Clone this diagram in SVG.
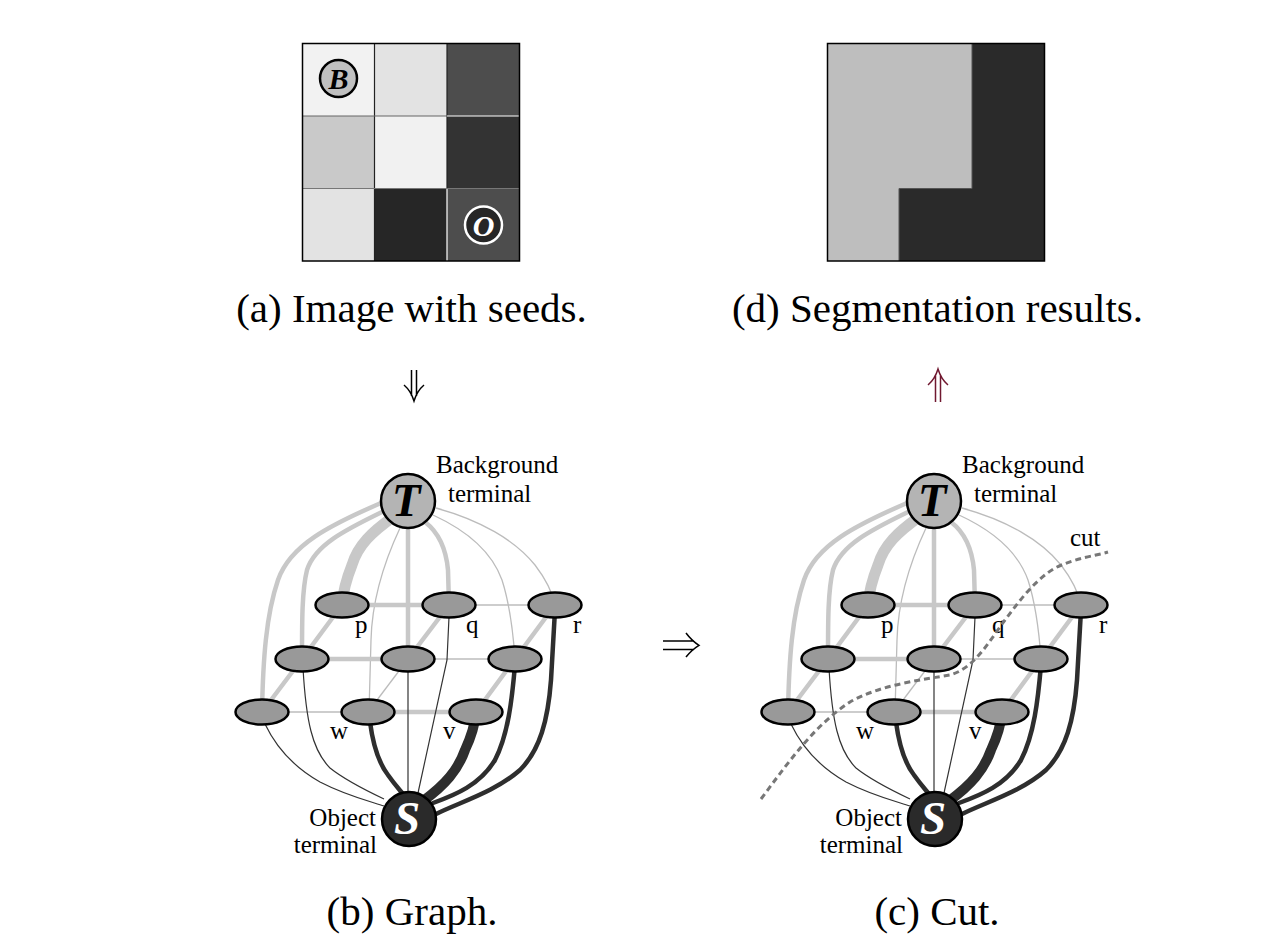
<svg xmlns="http://www.w3.org/2000/svg" width="1265" height="952" viewBox="0 0 1265 952">
<style>
.cap{font-family:"Liberation Serif","Times New Roman",serif;font-size:41px;fill:#000;text-anchor:middle}
.lbl{font-family:"Liberation Serif","Times New Roman",serif;font-size:25px;fill:#000}
.term{font-family:"Liberation Serif","Times New Roman",serif;font-size:47px;font-weight:bold;font-style:italic;text-anchor:middle}
.seed{font-family:"Liberation Serif","Times New Roman",serif;font-size:30px;font-weight:bold;font-style:italic;text-anchor:middle}
.lg{fill:none;stroke:#c8c8c8;stroke-width:4.5;stroke-linecap:round}
.lt{fill:none;stroke:#bcbcbc;stroke-width:1.3}
.dk{fill:none;stroke:#2e2e2e;stroke-width:4.5;stroke-linecap:round}
.dt{fill:none;stroke:#333;stroke-width:1.2}
.nd{fill:#999;stroke:#000;stroke-width:2.5}
.arr{fill:none;stroke:#000;stroke-width:1.5}
</style>
<rect width="1265" height="952" fill="#fff"/>

<!-- (a) image with seeds -->
<g id="imageA">
<rect x="302.5" y="43.5" width="72" height="72.5" fill="#f2f2f2"/>
<rect x="374.5" y="43.5" width="72.5" height="72.5" fill="#e3e3e3"/>
<rect x="447" y="43.5" width="72.5" height="72.5" fill="#4d4d4d"/>
<rect x="302.5" y="116" width="72" height="72.5" fill="#c9c9c9"/>
<rect x="374.5" y="116" width="72.5" height="72.5" fill="#f1f1f1"/>
<rect x="447" y="116" width="72.5" height="72.5" fill="#333"/>
<rect x="302.5" y="188.5" width="72" height="72.5" fill="#e3e3e3"/>
<rect x="374.5" y="188.5" width="72.5" height="72.5" fill="#262626"/>
<rect x="447" y="188.5" width="72.5" height="72.5" fill="#4d4d4d"/>
<line x1="374.5" y1="43.5" x2="374.5" y2="261" stroke="#222" stroke-width="1.2"/>
<line x1="447" y1="43.5" x2="447" y2="188.5" stroke="#222" stroke-width="1.2"/>
<line x1="447" y1="188.5" x2="447" y2="261" stroke="#fff" stroke-width="1.2"/>
<line x1="302.5" y1="116" x2="447" y2="116" stroke="#666" stroke-width="1.2"/>
<line x1="447" y1="116" x2="519.5" y2="116" stroke="#fff" stroke-width="1.2"/>
<line x1="302.5" y1="188.5" x2="519.5" y2="188.5" stroke="#777" stroke-width="1.2"/>
<rect x="302.5" y="43.5" width="217" height="217.5" fill="none" stroke="#000" stroke-width="1.5"/>
<g id="seedB">
<circle cx="338.5" cy="78.5" r="18.5" fill="#c0c0c0" stroke="#000" stroke-width="2.5"/>
<text class="seed" x="338.5" y="89" fill="#000">B</text>
</g>
<g id="seedO">
<circle cx="483.5" cy="225" r="18.5" fill="#262626" stroke="#fff" stroke-width="2.5"/>
<text class="seed" x="483.5" y="235.5" fill="#fff">O</text>
</g>
</g>
<text class="cap" x="411.5" y="322">(a) Image with seeds.</text>

<!-- (d) segmentation -->
<g id="imageD">
<rect x="827.5" y="43.5" width="217" height="217.5" fill="#2a2a2a"/>
<path d="M827.5,43.5 H972 V188.5 H899 V261 H827.5 Z" fill="#bebebe"/>
<path d="M899,261 V188.5 H972 V43.5" fill="none" stroke="#555" stroke-width="1"/>
<rect x="827.5" y="43.5" width="217" height="217.5" fill="none" stroke="#000" stroke-width="1.5"/>
</g>
<text class="cap" x="937.5" y="322">(d) Segmentation results.</text>

<!-- panel arrows -->
<g id="panelArrows">
<path class="arr" d="M411.5,370 V396 M416.5,370 V396 M404,385 Q411,391 414,401 Q417,391 424,385"/>
<path class="arr" style="stroke:#701830" d="M935.5,375 V402 M940.5,375 V402 M928,385 Q935,379 938,369 Q941,379 948,385"/>
<path class="arr" d="M663,641 H694 M663,649.5 H694 M686,633 Q692,641 699,645.3 Q692,649.5 686,657"/>
</g>

<!-- (b) graph -->
<g id="graphB">
<g id="connectorsB">
<path class="lg" d="M381,503 C330,525 290,545 278,580 C266,615 263,660 262,712"/>
<path class="lg" d="M382,512 C345,530 315,545 307,570 C302,590 302,620 302,659"/>
<path class="lg" style="stroke-width:11;stroke-linecap:butt" d="M393,517 C372,532 358,545 352,565 C346,580 343,592 342,605"/>
<path class="lg" d="M408,529 L408,659"/>
<path class="lg" d="M425,522 C438,532 446,548 448,570 L449,605"/>
<path class="lt" d="M400,528 C385,560 372,600 371,640 L369,712"/>
<path class="lt" d="M433,515 C470,532 493,555 502,580 C510,605 513,630 515,659"/>
<path class="lt" d="M436,508 C480,520 515,540 535,565 C548,582 553,595 555,605"/>
<path class="lg" d="M342,605 L449,605"/>
<path class="lt" d="M449,605 L555,605"/>
<path class="lg" d="M302,659 L408,659"/>
<path class="lt" d="M408,659 L515,659"/>
<path class="lt" d="M262,712 L368,712"/>
<path class="lg" d="M368,712 L476,712"/>
<path class="lg" d="M342,605 L302,659"/>
<path class="lg" d="M449,605 L408,659"/>
<path class="lg" d="M555,605 L515,659"/>
<path class="lg" d="M302,659 L262,712"/>
<path class="lt" d="M408,659 L368,712"/>
<path class="lg" d="M515,659 L476,712"/>
<path class="dt" d="M408,659 L408,793"/>
<path class="dt" d="M449,617 L447,660 L418,793"/>
<path class="dt" d="M303,668 C306,720 312,750 330,768 C345,780 365,790 384,799"/>
<path class="dt" d="M265,724 C275,745 290,765 320,782 C345,795 365,800 384,806"/>
<path class="dk" d="M370,722 C373,745 378,762 388,775 C395,785 400,790 403,794"/>
<path class="dk" d="M515,665 C512,700 508,735 495,760 C480,785 455,795 433,803"/>
<path class="dk" d="M555,610 L551,680 C548,720 540,750 520,770 C495,792 460,802 436,814"/>
<path class="dk" style="stroke-width:10;stroke-linecap:butt" d="M423,801 C445,785 458,770 465,750 C472,735 475,725 476,712"/>
</g>
<g id="nodeB_p"><ellipse class="nd" cx="342" cy="605" rx="26.5" ry="12.5"/></g>
<g id="nodeB_q"><ellipse class="nd" cx="449" cy="605" rx="26.5" ry="12.5"/></g>
<g id="nodeB_r"><ellipse class="nd" cx="555" cy="605" rx="26.5" ry="12.5"/></g>
<g id="nodeB_m1"><ellipse class="nd" cx="302" cy="659" rx="26.5" ry="12.5"/></g>
<g id="nodeB_m2"><ellipse class="nd" cx="408" cy="659" rx="26.5" ry="12.5"/></g>
<g id="nodeB_m3"><ellipse class="nd" cx="515" cy="659" rx="26.5" ry="12.5"/></g>
<g id="nodeB_b1"><ellipse class="nd" cx="262" cy="712" rx="26.5" ry="12.5"/></g>
<g id="nodeB_w"><ellipse class="nd" cx="368" cy="712" rx="26.5" ry="12.5"/></g>
<g id="nodeB_v"><ellipse class="nd" cx="476" cy="712" rx="26.5" ry="12.5"/></g>
<g id="nodeB_T">
<circle cx="408" cy="501" r="27" fill="#b4b4b4" stroke="#000" stroke-width="2.5"/>
<text class="term" x="406" y="516" fill="#000">T</text>
</g>
<g id="nodeB_S">
<circle cx="409" cy="819" r="27" fill="#2a2a2a" stroke="#000" stroke-width="2.5"/>
<text class="term" x="407" y="834" fill="#fff">S</text>
</g>
<text class="lbl" x="436" y="473">Background</text>
<text class="lbl" x="448" y="502">terminal</text>
<text class="lbl" x="355" y="633">p</text>
<text class="lbl" x="466" y="633">q</text>
<text class="lbl" x="573" y="633">r</text>
<text class="lbl" x="330" y="739">w</text>
<text class="lbl" x="443" y="739">v</text>
<text class="lbl" x="376" y="826" text-anchor="end">Object</text>
<text class="lbl" x="377" y="853" text-anchor="end">terminal</text>
</g>
<text class="cap" x="412" y="925">(b) Graph.</text>

<!-- (c) cut -->
<g id="graphC" transform="translate(526,0)">
<g id="connectorsC">
<path class="lg" d="M381,503 C330,525 290,545 278,580 C266,615 263,660 262,712"/>
<path class="lg" d="M382,512 C345,530 315,545 307,570 C302,590 302,620 302,659"/>
<path class="lg" style="stroke-width:11;stroke-linecap:butt" d="M393,517 C372,532 358,545 352,565 C346,580 343,592 342,605"/>
<path class="lg" d="M408,529 L408,659"/>
<path class="lg" d="M425,522 C438,532 446,548 448,570 L449,605"/>
<path class="lt" d="M400,528 C385,560 372,600 371,640 L369,712"/>
<path class="lt" d="M433,515 C470,532 493,555 502,580 C510,605 513,630 515,659"/>
<path class="lt" d="M436,508 C480,520 515,540 535,565 C548,582 553,595 555,605"/>
<path class="lg" d="M342,605 L449,605"/>
<path class="lt" d="M449,605 L555,605"/>
<path class="lg" d="M302,659 L408,659"/>
<path class="lt" d="M408,659 L515,659"/>
<path class="lt" d="M262,712 L368,712"/>
<path class="lg" d="M368,712 L476,712"/>
<path class="lg" d="M342,605 L302,659"/>
<path class="lg" d="M449,605 L408,659"/>
<path class="lg" d="M555,605 L515,659"/>
<path class="lg" d="M302,659 L262,712"/>
<path class="lt" d="M408,659 L368,712"/>
<path class="lg" d="M515,659 L476,712"/>
<path class="dt" d="M408,659 L408,793"/>
<path class="dt" d="M449,617 L447,660 L418,793"/>
<path class="dt" d="M303,668 C306,720 312,750 330,768 C345,780 365,790 384,799"/>
<path class="dt" d="M265,724 C275,745 290,765 320,782 C345,795 365,800 384,806"/>
<path class="dk" d="M370,722 C373,745 378,762 388,775 C395,785 400,790 403,794"/>
<path class="dk" d="M515,665 C512,700 508,735 495,760 C480,785 455,795 433,803"/>
<path class="dk" d="M555,610 L551,680 C548,720 540,750 520,770 C495,792 460,802 436,814"/>
<path class="dk" style="stroke-width:10;stroke-linecap:butt" d="M423,801 C445,785 458,770 465,750 C472,735 475,725 476,712"/>
</g>
<g id="nodeC_p"><ellipse class="nd" cx="342" cy="605" rx="26.5" ry="12.5"/></g>
<g id="nodeC_q"><ellipse class="nd" cx="449" cy="605" rx="26.5" ry="12.5"/></g>
<g id="nodeC_r"><ellipse class="nd" cx="555" cy="605" rx="26.5" ry="12.5"/></g>
<g id="nodeC_m1"><ellipse class="nd" cx="302" cy="659" rx="26.5" ry="12.5"/></g>
<g id="nodeC_m2"><ellipse class="nd" cx="408" cy="659" rx="26.5" ry="12.5"/></g>
<g id="nodeC_m3"><ellipse class="nd" cx="515" cy="659" rx="26.5" ry="12.5"/></g>
<g id="nodeC_b1"><ellipse class="nd" cx="262" cy="712" rx="26.5" ry="12.5"/></g>
<g id="nodeC_w"><ellipse class="nd" cx="368" cy="712" rx="26.5" ry="12.5"/></g>
<g id="nodeC_v"><ellipse class="nd" cx="476" cy="712" rx="26.5" ry="12.5"/></g>
<g id="nodeC_T">
<circle cx="408" cy="501" r="27" fill="#b4b4b4" stroke="#000" stroke-width="2.5"/>
<text class="term" x="406" y="516" fill="#000">T</text>
</g>
<g id="nodeC_S">
<circle cx="409" cy="819" r="27" fill="#2a2a2a" stroke="#000" stroke-width="2.5"/>
<text class="term" x="407" y="834" fill="#fff">S</text>
</g>
<text class="lbl" x="436" y="473">Background</text>
<text class="lbl" x="448" y="502">terminal</text>
<text class="lbl" x="355" y="633">p</text>
<text class="lbl" x="466" y="633">q</text>
<text class="lbl" x="573" y="633">r</text>
<text class="lbl" x="330" y="739">w</text>
<text class="lbl" x="443" y="739">v</text>
<text class="lbl" x="376" y="826" text-anchor="end">Object</text>
<text class="lbl" x="377" y="853" text-anchor="end">terminal</text>
<text class="lbl" x="544" y="546">cut</text>
<path id="cutLine" d="M235,799 C264,760 289,725 324,702 C354,685 394,680 424,675 C449,668 464,640 479,620 C494,600 509,580 529,568 C549,558 569,556 582,552" fill="none" stroke="#777" stroke-width="3" stroke-dasharray="6 4"/>
</g>
<text class="cap" x="937" y="925">(c) Cut.</text>
</svg>
